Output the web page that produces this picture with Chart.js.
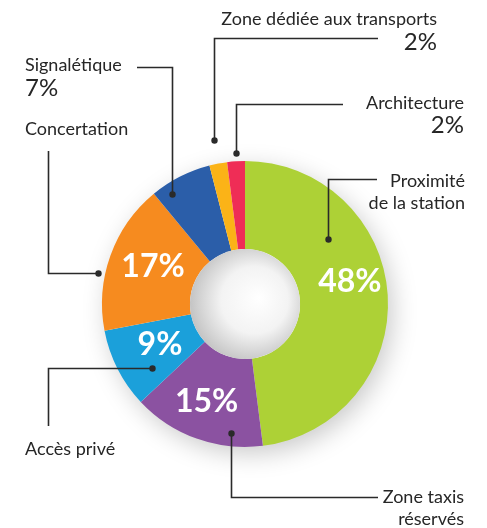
<!DOCTYPE html>
<html>
<head>
<meta charset="utf-8">
<script src="https://cdn.jsdelivr.net/npm/chart.js@4"></script>
<style>
  html, body { margin: 0; padding: 0; background: #ffffff; }
  #wrap { width: 487px; height: 528px; position: relative; }
</style>
</head>
<body>
<div id="wrap"><canvas id="donutChart"></canvas></div>
<script>
// Data
const categories = ['Proximité de la station', 'Zone taxis réservés', 'Accès privé', 'Concertation', 'Signalétique', 'Zone dédiée aux transports', 'Architecture'];
const shares = [48, 15, 9, 17, 7, 2, 2];
const sliceColors = ['#add136', '#8b52a1', '#1ba0da', '#f68b1f', '#2b5ea9', '#fbb317', '#ef2d56'];

// Callout text per slice (lines of label, optional percent line)
const calloutLines = [
    ['Proximité', 'de la station'],
    ['Zone taxis', 'réservés'],
    ['Accès privé'],
    ['Concertation'],
    ['Signalétique'],
    ['Zone dédiée aux transports'],
    ['Architecture']
];
const calloutPercent = [null, null, null, null, '7%', '2%', '2%'];
// Slices that get a big white % inside the ring
const insideLabels = [true, true, true, true, false, false, false];

// Layout of the leader lines (t = position along slice, r = radius factor)
const leaders = [
    { t: 0.30, r: 0.734, dir: 'v', turn: 179, end: 377, align: 'right', tx: 465, ty: [187, 209] },
    { t: 0.25, r: 0.909, dir: 'v', turn: 497, end: 378, align: 'right', tx: 464, ty: [503, 525] },
    { t: 0.26, r: 0.79,  dir: 'h', turn: 48,  end: 426, align: 'left',  tx: 25,  ty: [455] },
    { t: 0.37, r: 1.049, dir: 'h', turn: 48,  end: 151, align: 'left',  tx: 25,  ty: [135] },
    { t: 0.24, r: 0.923, dir: 'v', turn: 67,  end: 137, align: 'left',  tx: 25,  ty: [71], py: 96 },
    { t: 0.50, r: 1.168, dir: 'v', turn: 38,  end: 378, align: 'right', tx: 437, ty: [25], py: 50 },
    { t: 0.50, r: 1.056, dir: 'v', turn: 104, end: 343, align: 'right', tx: 464, ty: [109], py: 133 }
];
const insidePos = [
    { t: 0.45, r: 0.75 },
    { t: 0.53, r: 0.735 },
    { t: 0.54, r: 0.66 },
    { t: 0.54, r: 0.695 }
];

function pointOnArc(arc, t, rf) {
    const a = arc.startAngle + t * (arc.endAngle - arc.startAngle);
    const r = arc.outerRadius * rf;
    return { x: arc.x + r * Math.cos(a), y: arc.y + r * Math.sin(a) };
}

const decorPlugin = {
    id: 'decor',
    beforeDatasetsDraw(chart) {
        const arc = chart.getDatasetMeta(0).data[0];
        const ctx = chart.ctx;
        ctx.save();
        ctx.shadowColor = 'rgba(0,0,0,0.22)';
        ctx.shadowBlur = 26;
        ctx.shadowOffsetX = 5;
        ctx.shadowOffsetY = 7;
        ctx.fillStyle = '#ffffff';
        ctx.beginPath();
        ctx.arc(arc.x, arc.y, arc.outerRadius - 1, 0, Math.PI * 2);
        ctx.fill();
        ctx.restore();
    },
    afterDatasetsDraw(chart) {
        const meta = chart.getDatasetMeta(0);
        const ctx = chart.ctx;
        const a0 = meta.data[0];

        // shaded hole
        ctx.save();
        const g = ctx.createRadialGradient(a0.x + 14, a0.y - 6, 0, a0.x + 6, a0.y - 2, a0.innerRadius + 6);
        g.addColorStop(0, '#ffffff');
        g.addColorStop(0.55, '#f3f3f3');
        g.addColorStop(1, '#c4c4c4');
        ctx.fillStyle = g;
        ctx.beginPath();
        ctx.arc(a0.x, a0.y, a0.innerRadius, 0, Math.PI * 2);
        ctx.fill();
        ctx.restore();

        // percent labels inside
        ctx.save();
        ctx.fillStyle = '#ffffff';
        ctx.font = 'bold 32px Lato';
        ctx.textAlign = 'center';
        ctx.textBaseline = 'middle';
        insidePos.forEach((p, i) => {
            if (!insideLabels[i]) return;
            const pt = pointOnArc(meta.data[i], p.t, p.r);
            ctx.fillText(shares[i] + '%', pt.x, pt.y);
        });
        ctx.restore();

        // leader lines + callouts
        ctx.save();
        ctx.strokeStyle = '#2a2a2a';
        ctx.lineWidth = 1.6;
        leaders.forEach((l, i) => {
            const d = pointOnArc(meta.data[i], l.t, l.r);
            const dx = Math.round(d.x) + 0.5, dy = Math.round(d.y) + 0.5;
            ctx.beginPath();
            ctx.moveTo(dx, dy);
            if (l.dir === 'v') {
                ctx.lineTo(dx, l.turn + 0.5);
                ctx.lineTo(l.end, l.turn + 0.5);
            } else {
                ctx.lineTo(l.turn + 0.5, dy);
                ctx.lineTo(l.turn + 0.5, l.end);
            }
            ctx.stroke();
            ctx.fillStyle = '#2a2a2a';
            ctx.beginPath();
            ctx.arc(dx, dy, 3.2, 0, Math.PI * 2);
            ctx.fill();

            ctx.fillStyle = '#262626';
            ctx.textAlign = l.align;
            ctx.textBaseline = 'alphabetic';
            ctx.font = '18px Lato';
            calloutLines[i].forEach((s, k) => ctx.fillText(s, l.tx, l.ty[k]));
            if (calloutPercent[i]) {
                ctx.font = '24px Lato';
                ctx.fillText(calloutPercent[i], l.tx, l.py);
            }
        });
        ctx.restore();
    }
};

new Chart(document.getElementById('donutChart').getContext('2d'), {
    type: 'doughnut',
    data: {
        labels: categories,
        datasets: [{
            data: shares,
            backgroundColor: sliceColors,
            borderWidth: 0,
            hoverOffset: 0
        }]
    },
    options: {
        responsive: true,
        maintainAspectRatio: false,
        animation: false,
        cutout: '38.5%',
        layout: { padding: { left: 102, right: 99, top: 161, bottom: 81 } },
        plugins: {
            legend: { display: false },
            tooltip: { enabled: false }
        }
    },
    plugins: [decorPlugin]
});
</script>
</body>
</html>
